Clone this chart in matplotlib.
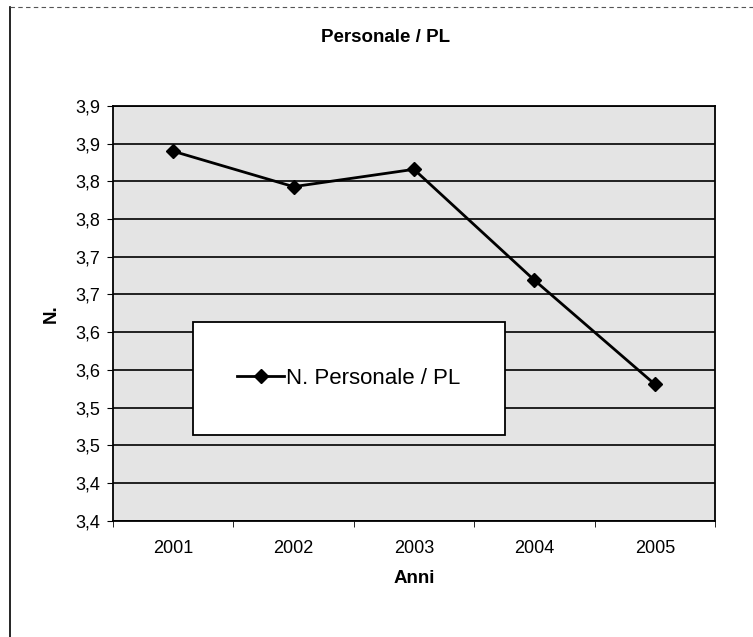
import matplotlib
matplotlib.use("Agg")
import matplotlib.pyplot as plt
from matplotlib.patches import Rectangle
from matplotlib.lines import Line2D
from matplotlib.ticker import FixedLocator, FuncFormatter

years = ["2001", "2002", "2003", "2004", "2005"]
values = [3.840, 3.793, 3.816, 3.669, 3.531]
series_name = "N. Personale / PL"
title = "Personale / PL"
xlabel = "Anni"
ylabel = "N."
ytick_values = [3.35, 3.40, 3.45, 3.50, 3.55, 3.60, 3.65, 3.70, 3.75, 3.80, 3.85, 3.90]

plt.rcParams['font.family'] = ['Liberation Sans', 'DejaVu Sans']

fig = plt.figure(figsize=(7.53, 6.37), dpi=100)
ax = fig.add_axes([0.150, 0.1826, 0.7995, 0.651])
ax.set_facecolor('#e4e4e4')

x = list(range(len(years)))
ax.plot(x, values, color='black', lw=2, marker='D', markersize=7, zorder=5)

ax.set_xlim(-0.5, len(years) - 0.5)
ax.set_ylim(ytick_values[0], ytick_values[-1])
ax.yaxis.set_major_locator(FixedLocator(ytick_values))

def fmt(v, pos):
    r = int(v * 10 + 0.5 + 1e-9) / 10
    return f"{r:.1f}".replace('.', ',')
ax.yaxis.set_major_formatter(FuncFormatter(fmt))
ax.grid(axis='y', color='black', lw=1.2, zorder=1)
ax.set_axisbelow(True)

ax.set_xticks(x)
ax.set_xticklabels(years)
ax.set_xticks([i - 0.5 for i in range(len(years) + 1)], minor=True)
ax.tick_params(axis='x', which='major', length=0, pad=14, labelsize=13)
ax.tick_params(axis='x', which='minor', length=4, direction='out')
ax.tick_params(axis='y', length=4, direction='out', labelsize=13, pad=5)

for s in ax.spines.values():
    s.set_color('black')
    s.set_linewidth(1.3)

ax.set_xlabel(xlabel, fontsize=13.5, fontweight='bold', labelpad=9)
ax.set_ylabel(ylabel, fontsize=13.5, fontweight='bold', labelpad=11)
fig.text(0.512, 1 - 37 / 637, title, ha='center', va='center', fontsize=13.5, fontweight='bold')

# legend box
bx0, by0, bw, bh = 0.133, 0.2067, 0.518, 0.272
ax.add_patch(Rectangle((bx0, by0), bw, bh, transform=ax.transAxes,
                       facecolor='white', edgecolor='black', lw=1.3, zorder=6))
handle = Line2D([], [], color='black', lw=2, marker='D', markersize=7)
leg = ax.legend([handle], [series_name], loc='center',
                bbox_to_anchor=(bx0 + bw / 2, by0 + bh / 2), bbox_transform=ax.transAxes,
                frameon=False, fontsize=16, handlelength=2.1, handletextpad=0.1)
leg.set_zorder(7)

# outer chart border (left and top)
fig.add_artist(Line2D([10 / 753, 10 / 753], [0, 1 - 7 / 637], transform=fig.transFigure, color='black', lw=1.2))
fig.add_artist(Line2D([10 / 753, 1], [1 - 7 / 637, 1 - 7 / 637], transform=fig.transFigure, color='#555555', lw=0.8, ls=(0, (4, 3))))

fig.savefig("out.png", dpi=100)
